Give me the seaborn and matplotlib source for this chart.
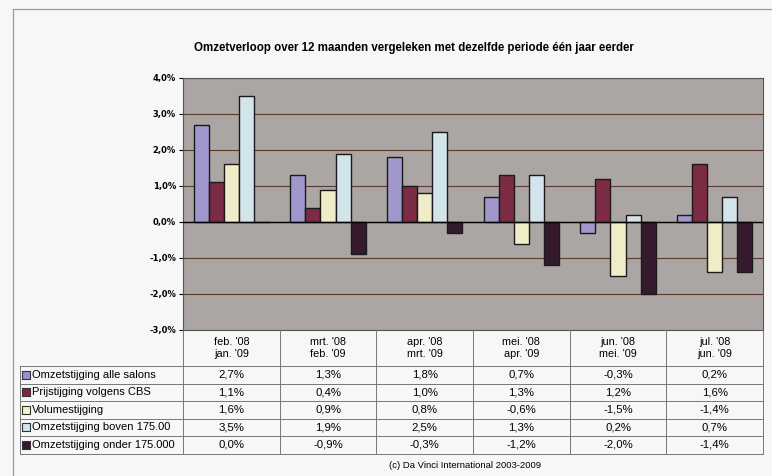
import matplotlib
matplotlib.use("Agg")
import matplotlib.pyplot as plt
import matplotlib.ticker as mticker
import pandas as pd
import seaborn as sns

periods = ["feb. '08\njan. '09", "mrt. '08\nfeb. '09", "apr. '08\nmrt. '09",
           "mei. '08\napr. '09", "jun. '08\nmei. '09", "jul. '08\njun. '09"]
series = ["Omzetstijging alle salons", "Prijstijging volgens CBS", "Volumestijging",
          "Omzetstijging boven 175.00", "Omzetstijging onder 175.000"]
alle_salons = [2.7, 1.3, 1.8, 0.7, -0.3, 0.2]
prijs_cbs = [1.1, 0.4, 1.0, 1.3, 1.2, 1.6]
volume = [1.6, 0.9, 0.8, -0.6, -1.5, -1.4]
boven = [3.5, 1.9, 2.5, 1.3, 0.2, 0.7]
onder = [0.0, -0.9, -0.3, -1.2, -2.0, -1.4]
colors = ["#9a8fd6", "#8a1d40", "#f6f1c0", "#cfe6f0", "#3a1432"]

values = [alle_salons, prijs_cbs, volume, boven, onder]
df = pd.DataFrame({
    "periode": [p for _ in series for p in periods],
    "reeks": [s for s in series for _ in periods],
    "waarde": [v for vals in values for v in vals],
})

W, H = 772, 476
fig = plt.figure(figsize=(W / 100, H / 100), dpi=100)
fig.patch.set_facecolor("#f7f7f7")

x0, x1, ytop, ybot = 183, 763, 78, 330
ax = fig.add_axes([x0 / W, 1 - ybot / H, (x1 - x0) / W, (ybot - ytop) / H])
ax.set_facecolor("#aba5a4")
sns.barplot(data=df, x="periode", y="waarde", hue="reeks", hue_order=series,
            palette=colors, width=0.78, edgecolor="#1a1a1a", linewidth=1.0,
            ax=ax, legend=False, zorder=3)
ax.set_ylim(-3, 4)
ax.set_xlim(-0.5, len(periods) - 0.5)
ax.yaxis.set_major_locator(mticker.MultipleLocator(1))
ax.yaxis.set_major_formatter(mticker.FuncFormatter(lambda v, p: f"{v:.1f}%".replace(".", ",")))
ax.grid(axis="y", color="#5a3a2a", linewidth=0.8, zorder=1)
ax.axhline(0, color="black", linewidth=1.0, zorder=4)
ax.set_xticks([])
ax.set_xlabel("")
ax.set_ylabel("")
ax.tick_params(axis="y", labelsize=6, length=3, pad=2)
for lab in ax.get_yticklabels():
    lab.set_fontweight("bold")
for s in ax.spines.values():
    s.set_color("#555555")
    s.set_linewidth(0.8)

fig.text(414 / W, 1 - 48 / H,
         "Omzetverloop over 12 maanden vergeleken met dezelfde periode één jaar eerder",
         ha="center", va="center", fontsize=8.3, fontweight="bold", family="Liberation Sans")

# data table underneath
tb = fig.add_axes([0, 0, 1, 1])
tb.set_xlim(0, W)
tb.set_ylim(H, 0)
tb.axis("off")
tb.patch.set_alpha(0)
# outer frame of the scanned chart
tb.plot([13, 13, W], [H, 9, 9], color="#9a9a9a", lw=0.9)

colw = (x1 - x0) / len(periods)
lab_x = 20
head_bot = 366
rowh = 17.5
line_c = "#777777"
for i, p in enumerate(periods):
    cx = x0 + colw * (i + 0.5)
    tb.text(cx, (ybot + head_bot) / 2, p, ha="center", va="center", fontsize=7.8,
            family="Liberation Sans", linespacing=1.25)
for i in range(len(periods) + 1):
    tb.plot([x0 + colw * i] * 2, [ybot, head_bot + rowh * len(series)], color=line_c, lw=0.7)
for r in range(len(series) + 1):
    tb.plot([lab_x, x1], [head_bot + rowh * r] * 2, color=line_c, lw=0.7)
tb.plot([lab_x, lab_x], [head_bot, head_bot + rowh * len(series)], color=line_c, lw=0.7)
for r, (name, vals, c) in enumerate(zip(series, values, colors)):
    cy = head_bot + rowh * (r + 0.5)
    tb.scatter([lab_x + 6], [cy], s=28, marker="s", color=c, edgecolor="#333333", linewidth=0.8)
    tb.text(lab_x + 12, cy, name, ha="left", va="center", fontsize=8.0, family="Liberation Sans")
    for i, v in enumerate(vals):
        tb.text(x0 + colw * (i + 0.5), cy, f"{v:.1f}%".replace(".", ","),
                ha="center", va="center", fontsize=8.2, family="Liberation Sans")

fig.text(465 / W, 1 - 466 / H, "(c) Da Vinci International 2003-2009",
         ha="center", va="center", fontsize=6.8, family="Liberation Sans")

fig.savefig("out.png", dpi=100)
